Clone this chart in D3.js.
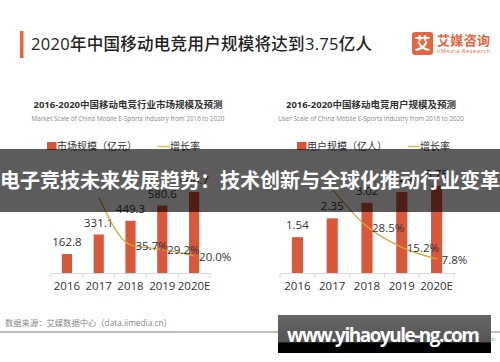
<!DOCTYPE html>
<meta charset="utf-8">
<script src="https://d3js.org/d3.v7.min.js"></script>
<style>
  body { margin: 0; background: #fff; }
  text { font-family: "Open Sans", "Noto Sans CJK SC", sans-serif; }
</style>
<div id="chart"></div>
<script>
// data
const years = ["2016", "2017", "2018", "2019", "2020E"];
const marketScale = [162.8, 331.1, 449.3, 580.6, 696.7];
const marketGrowth = [null, 103.4, 35.7, 29.2, 20.0];
const userScale = [1.54, 2.35, 3.02, 3.48, 3.75];
const userGrowth = [null, 52.6, 28.5, 15.2, 7.8];

const W = 500, H = 362;
const svg = d3.select("#chart").append("svg")
    .attr("width", W).attr("height", H);

svg.append("rect").attr("width", W).attr("height", H).attr("fill", "#fff");

// header
svg.append("rect").attr("x", 20).attr("y", 31).attr("width", 3.5).attr("height", 27).attr("fill", "#e8643e");
svg.append("text").attr("x", 31).attr("y", 50)
    .attr("font-size", 16.5).attr("font-weight", 500).attr("fill", "#222")
    .attr("textLength", 341).attr("font-family", "Noto Sans CJK SC")
    .text("2020年中国移动电竞用户规模将达到3.75亿人");

// logo
svg.append("rect").attr("x", 412).attr("y", 32).attr("width", 21).attr("height", 23).attr("rx", 3).attr("fill", "#e8643e");
svg.append("text").attr("x", 422.5).attr("y", 49).attr("text-anchor", "middle")
    .attr("font-size", 16).attr("font-weight", 700).attr("fill", "#fff")
    .attr("font-family", "Noto Sans CJK SC").text("艾");
svg.append("text").attr("x", 437).attr("y", 45)
    .attr("font-size", 13).attr("font-weight", 700).attr("fill", "#e8643e")
    .attr("font-family", "Noto Sans CJK SC").attr("textLength", 53).text("艾媒咨询");
svg.append("text").attr("x", 437).attr("y", 53)
    .attr("font-size", 5.5).attr("fill", "#e8643e").attr("textLength", 53).text("iiMedia Research");

function drawChart(cfg) {
    const g = svg.append("g");
    const x = d3.scaleBand().domain(years).range(cfg.xRange).paddingInner(0.68).paddingOuter(0.34);
    const y = d3.scaleLinear().domain(cfg.yDomain).range([273, 180]);
    const y2 = d3.scaleLinear().domain(cfg.y2Domain).range(cfg.y2Range);
    const cx = d => x(d) + x.bandwidth() / 2;

    // titles
    g.append("text").attr("x", cfg.cx).attr("y", 108).attr("text-anchor", "middle")
        .attr("font-size", 9.5).attr("font-weight", 700).attr("fill", "#333")
        .attr("font-family", "Noto Sans CJK SC").text(cfg.title);
    g.append("text").attr("x", cfg.cx).attr("y", 121).attr("text-anchor", "middle")
        .attr("font-size", 6.3).attr("fill", "#888").text(cfg.subtitle);

    // legend
    g.append("rect").attr("x", cfg.legX).attr("y", 142).attr("width", 9.5).attr("height", 8).attr("fill", "#d9553a");
    g.append("text").attr("x", cfg.legX + 10).attr("y", 150)
        .attr("font-size", 10).attr("fill", "#333").attr("font-family", "Noto Sans CJK SC").text(cfg.legend);
    g.append("line").attr("x1", cfg.legX + 111).attr("x2", cfg.legX + 123)
        .attr("y1", 146.5).attr("y2", 146.5).attr("stroke", "#e0b84a").attr("stroke-width", 1.5);
    g.append("text").attr("x", cfg.legX + 123).attr("y", 150)
        .attr("font-size", 10).attr("fill", "#333").attr("font-family", "Noto Sans CJK SC").text("增长率");

    // axis
    const axis = g.append("g").attr("transform", "translate(0,273)")
        .call(d3.axisBottom(x).tickSize(0).tickPadding(9));
    axis.select(".domain").attr("stroke", "#d9d9d9");
    axis.selectAll("text").attr("font-size", 11.5).attr("fill", "#333")
        .attr("font-family", "Open Sans");
    g.selectAll(".sep").data(d3.range(years.length + 1)).join("line")
        .attr("x1", i => cfg.xRange[0] + i * x.step())
        .attr("x2", i => cfg.xRange[0] + i * x.step())
        .attr("y1", 273).attr("y2", 278).attr("stroke", "#d9d9d9");

    // bars
    g.selectAll(".bar").data(years).join("rect")
        .attr("x", d => x(d)).attr("width", x.bandwidth())
        .attr("y", (d, i) => y(cfg.values[i]))
        .attr("height", (d, i) => 273 - y(cfg.values[i]))
        .attr("fill", "#d9573b");
    g.selectAll(".vlab").data(years).join("text")
        .attr("x", d => cx(d)).attr("y", (d, i) => y(cfg.values[i]) - 8)
        .attr("text-anchor", "middle").attr("font-size", 11.5).attr("fill", "#333")
        .text((d, i) => cfg.values[i].toFixed(cfg.dec));

    // growth line (2017 label sits under the banner and is not shown)
    const pts = years.map((d, i) => [d, cfg.growth[i]]).filter(p => p[1] != null);
    g.append("path").datum(pts)
        .attr("fill", "none").attr("stroke", "#d6a83a").attr("stroke-width", 1.3)
        .attr("d", d3.line().curve(d3.curveMonotoneX)
            .x(p => cx(p[0])).y(p => y2(p[1])));
    g.selectAll(".glab").data(pts.slice(1)).join("text")
        .attr("x", p => cx(p[0]) + 5).attr("y", p => y2(p[1]) + 5)
        .attr("font-size", 11.5).attr("fill", "#333")
        .text(p => p[1].toFixed(1) + "%");
}

drawChart({
    xRange: [51, 210], cx: 128, legX: 47,
    title: "2016-2020中国移动电竞行业市场规模及预测",
    subtitle: "Market Scale of China Mobile E-Sports Industry from 2016 to 2020",
    legend: "市场规模（亿元）",
    values: marketScale, growth: marketGrowth, dec: 1,
    yDomain: [0, 800], y2Domain: [0, 160], y2Range: [270, 157]
});
drawChart({
    xRange: [280, 454], cx: 371, legX: 297,
    title: "2016-2020中国移动电竞用户规模及预测",
    subtitle: "User Scale of China Mobile E-Sports Industry from 2016 to 2020",
    legend: "用户规模（亿人）",
    values: userScale, growth: userGrowth, dec: 2,
    yDomain: [0, 4], y2Domain: [0, 70], y2Range: [271, 162]
});

// footer
svg.append("text").attr("x", 5).attr("y", 326)
    .attr("font-size", 8.3).attr("fill", "#888").attr("font-family", "Noto Sans CJK SC")
    .text("数据来源：艾媒数据中心（data.iimedia.cn）");
svg.append("line").attr("x1", 0).attr("x2", W).attr("y1", 332).attr("y2", 332)
    .attr("stroke", "#aaa").attr("stroke-width", 1.5);
svg.append("text").attr("x", 496).attr("y", 341).attr("text-anchor", "end")
    .attr("font-size", 6).attr("fill", "#999").text("©2020 iiMedia Research Inc");

// overlay banner
svg.append("rect").attr("x", 0).attr("y", 149).attr("width", W).attr("height", 63)
    .attr("fill", "#000").attr("opacity", 0.64);
svg.append("text").attr("x", 0).attr("y", 188)
    .attr("font-size", 20).attr("font-weight", 700).attr("fill", "#fff")
    .attr("font-family", "Noto Sans CJK SC").attr("textLength", 500)
    .text("电子竞技未来发展趋势：技术创新与全球化推动行业变革");

// watermark
const wm = svg.append("defs").append("linearGradient").attr("id", "wmg")
    .attr("x1", 0).attr("y1", 0).attr("x2", 0).attr("y2", 1);
wm.append("stop").attr("offset", "0%").attr("stop-color", "#666");
wm.append("stop").attr("offset", "70%").attr("stop-color", "#555");
wm.append("stop").attr("offset", "74%").attr("stop-color", "#000");
wm.append("stop").attr("offset", "100%").attr("stop-color", "#000");
svg.append("rect").attr("x", 278).attr("y", 315).attr("width", 213).attr("height", 38).attr("fill", "url(#wmg)");
svg.append("text").attr("x", 287).attr("y", 342)
    .attr("font-size", 19).attr("font-weight", 700).attr("fill", "#fff")
    .attr("textLength", 193).text("www.yihaoyule-ng.com");
</script>
